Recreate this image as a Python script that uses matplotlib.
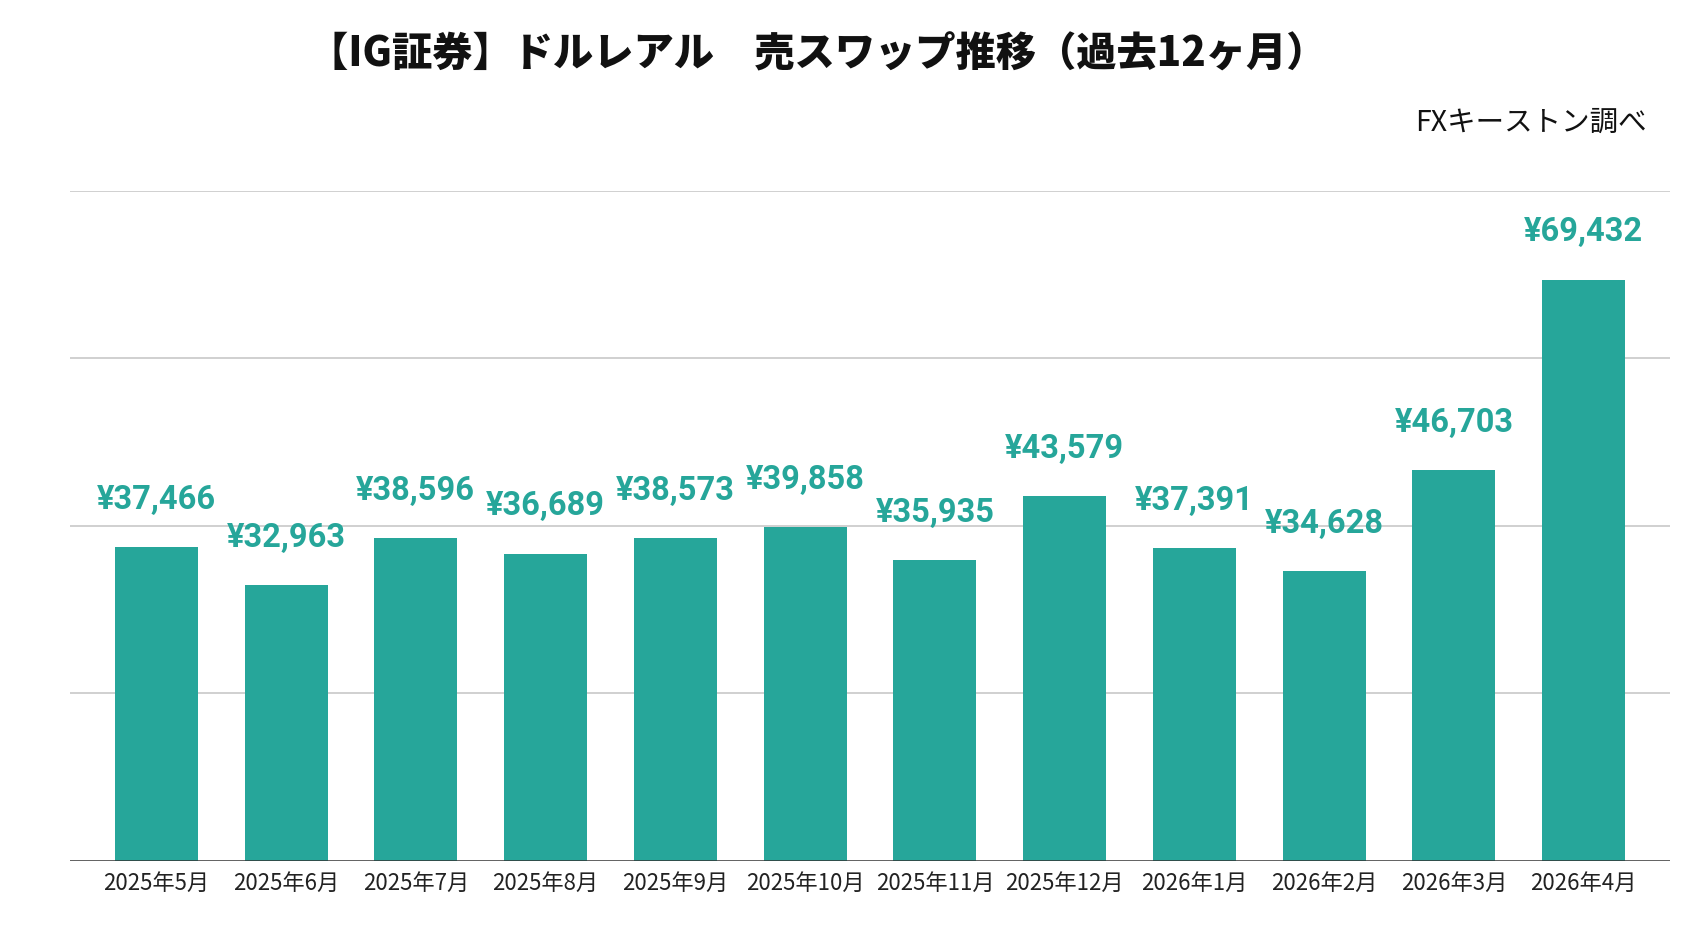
import matplotlib
matplotlib.use('Agg')
import matplotlib.pyplot as plt
import numpy as np

plt.rcParams['font.family'] = ['Noto Sans CJK JP', 'DejaVu Sans']

months = ['2025年5月', '2025年6月', '2025年7月', '2025年8月', '2025年9月', '2025年10月',
          '2025年11月', '2025年12月', '2026年1月', '2026年2月', '2026年3月', '2026年4月']
swap = [37466, 32963, 38596, 36689, 38573, 39858, 35935, 43579, 37391, 34628, 46703, 69432]
grid_vals = [20000, 40000, 60000, 80000]

teal = '#26A69A'

fig = plt.figure(figsize=(16.92, 9.34), dpi=100)
ax = fig.add_axes([0.0414, 0.0782, 0.9456, 0.7173])

x = np.arange(len(months))
bars = ax.bar(x, swap, width=0.64, color=teal, zorder=3)

for xi, v in zip(x, swap):
    ax.annotate('¥{:,}'.format(v), (xi, v), xytext=(0, 34), textcoords='offset points',
                ha='center', va='center', color=teal, fontsize=23.5,
                fontweight='bold', family='Roboto', annotation_clip=False)

for g in grid_vals:
    ax.axhline(g, color='#c8c8c8', lw=1.2, zorder=1)
ax.axhline(0, color='#333333', lw=1.8, zorder=4)

ax.set_ylim(0, 80000)
ax.set_xlim(-0.665, len(months) - 1 + 0.665)
ax.set_yticks([])
ax.set_xticks(x)
ax.set_xticklabels(months, fontsize=16, color='#222222')
ax.tick_params(axis='x', length=0, pad=8)
for s in ax.spines.values():
    s.set_visible(False)

fig.text(0.483, 0.942, '【IG証券】ドルレアル　売スワップ推移（過去12ヶ月）',
         ha='center', va='center', fontsize=29, fontweight='heavy', color='#111111')
fig.text(0.973, 0.868, 'FXキーストン調べ', ha='right', va='center',
         fontsize=20.5, color='#111111')

fig.savefig('out.png', dpi=100, facecolor='white')
